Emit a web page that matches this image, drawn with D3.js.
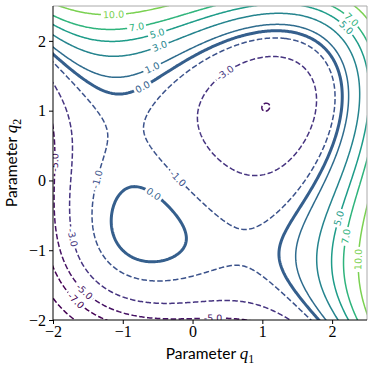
<!DOCTYPE html>
<html>
<head>
<meta charset="utf-8">
<script src="https://cdn.jsdelivr.net/npm/d3@7"></script>
<style>
  body { margin: 0; background: #fff; }
  svg { display: block; }
</style>
</head>
<body>
<script>
// contour levels and axis ticks
const levels = [-10, -7, -5, -3, -1, 0, 1, 3, 5, 7, 10];
const xTicks = [-2, -1, 0, 1, 2];
const yTicks = [-2, -1, 0, 1, 2];
const xDomain = [-2, 2.5];
const yDomain = [-2, 2.5];

// surface: min about -5 near (1,1), small max near (-0.7,-0.7)
const cubicCoef = [1.019, 0.032];   // x^3+y^3, x^2y+xy^2
const quadCoef = [-0.056, -0.958];  // x^2+y^2, xy
const linCoef = -2.295;             // x+y
const constCoef = -1.413;
const flattenCoef = 0.0065;         // damps the far upper-right corner

// inline labels: level and rough spot (q1, q2) where it sits
const labelLevel = [10, 7, 5, 3, 1, 0, -3, 7, 5, -1, -1, 0, -3, -5, -7, -5, 5, 7, 10, -5];
const labelQ1 = [-1.14, -0.80, -0.51, -0.47, -0.57, -0.70, 0.46, 2.28, 2.21, -1.37, -0.22, -0.58, -1.73, -1.57, -1.71, 0.29, 2.08, 2.21, 2.36, -1.97];
const labelQ2 = [2.34, 2.18, 2.11, 1.90, 1.58, 1.32, 1.55, 2.30, 2.20, 0.01, 0.01, -0.24, -0.83, -1.61, -1.76, -1.97, -0.54, -0.81, -1.14, 0.25];

function field(a, b) {
  const u = Math.max(0, (a + b) / Math.SQRT2);
  return cubicCoef[0] * (a * a * a + b * b * b) + cubicCoef[1] * (a * a * b + a * b * b)
    + quadCoef[0] * (a * a + b * b) + quadCoef[1] * a * b
    + linCoef * (a + b) + constCoef - flattenCoef * u * u * u * u;
}

const width = 374, height = 367;
const x = d3.scaleLinear().domain(xDomain).range([53, 367]);
const y = d3.scaleLinear().domain(yDomain).range([320, 6]);

// colour: viridis, stretched so 0 sits around 0.3 and 10 around 0.8
const color = v => d3.interpolateViridis(Math.max(0, Math.min(1, (v + 6) / 20)));

const svg = d3.select("body").append("svg")
  .attr("width", width)
  .attr("height", height);

const defs = svg.append("defs");
defs.append("clipPath").attr("id", "plotclip")
  .append("rect")
  .attr("x", x(xDomain[0])).attr("y", y(yDomain[1]))
  .attr("width", x(xDomain[1]) - x(xDomain[0]))
  .attr("height", y(yDomain[0]) - y(yDomain[1]));

// grid a bit bigger than the view so the ring borders fall outside the clip
const n = 300, g0 = -2.35, g1 = 2.85, step = (g1 - g0) / (n - 1);
const values = new Float64Array(n * n);
for (let j = 0; j < n; j++) {
  for (let i = 0; i < n; i++) {
    values[j * n + i] = field(g0 + i * step, g0 + j * step);
  }
}
const contours = d3.contours().size([n, n]).thresholds(levels)(values);

const toPx = (cx, cy) => [x(g0 + (cx - 0.5) * step), y(g0 + (cy - 0.5) * step)];
const path = d3.geoPath(d3.geoTransform({
  point: function(px, py) {
    const p = toPx(px, py);
    this.stream.point(p[0], p[1]);
  }
}));

// ring points in pixels, per level, for placing labels
const ringsByLevel = {};
contours.forEach(c => {
  ringsByLevel[c.value] = [];
  c.coordinates.forEach(poly => poly.forEach(ring => {
    ringsByLevel[c.value].push(ring.map(p => toPx(p[0], p[1])));
  }));
});

const fmt = v => v.toFixed(1);
const labels = labelLevel.map((lv, k) => {
  const ax = x(labelQ1[k]), ay = y(labelQ2[k]);
  let best = null, bestD = Infinity;
  (ringsByLevel[lv] || []).forEach(r => {
    r.forEach((p, i) => {
      const d = (p[0] - ax) ** 2 + (p[1] - ay) ** 2;
      if (d < bestD) { bestD = d; best = {r, i}; }
    });
  });
  const r = best.r, m = r.length;
  const p = r[best.i];
  const p0 = r[(best.i - 3 + m) % m], p1 = r[(best.i + 3) % m];
  let ang = Math.atan2(p1[1] - p0[1], p1[0] - p0[0]) * 180 / Math.PI;
  if (ang > 90) ang -= 180;
  if (ang < -90) ang += 180;
  return {level: lv, px: p[0], py: p[1], ang: ang, text: fmt(lv)};
});

// text first, so its length can be measured for the line gaps
const labelG = svg.append("g").attr("clip-path", "url(#plotclip)");
labelG.selectAll("text")
  .data(labels)
  .join("text")
  .attr("transform", d => `translate(${d.px},${d.py}) rotate(${d.ang})`)
  .attr("text-anchor", "middle")
  .attr("dy", "0.35em")
  .attr("font-family", "DejaVu Sans, sans-serif")
  .attr("font-size", 9.5)
  .attr("fill", d => color(d.level))
  .text(d => d.text)
  .each(function(d) { d.w = this.getComputedTextLength(); });

levels.forEach((lv, i) => {
  const mask = defs.append("mask").attr("id", "mask" + i)
    .attr("maskUnits", "userSpaceOnUse")
    .attr("x", 0).attr("y", 0).attr("width", width).attr("height", height);
  mask.append("rect").attr("width", width).attr("height", height).attr("fill", "#fff");
  labels.filter(d => d.level === lv).forEach(d => {
    mask.append("rect")
      .attr("x", -d.w / 2 - 2).attr("y", -6)
      .attr("width", d.w + 4).attr("height", 12)
      .attr("transform", `translate(${d.px},${d.py}) rotate(${d.ang})`)
      .attr("fill", "#000");
  });
});

const lineG = svg.insert("g", "g").attr("clip-path", "url(#plotclip)");
lineG.selectAll("g")
  .data(contours)
  .join("g")
  .attr("mask", (d, i) => `url(#mask${i})`)
  .append("path")
  .attr("d", path)
  .attr("fill", "none")
  .attr("stroke", d => color(d.value))
  .attr("stroke-width", d => d.value === 0 ? 3 : 1.5)
  .attr("stroke-dasharray", d => d.value < 0 ? "5.5,2.4" : null);

// axes
const tickFont = "Liberation Serif, DejaVu Serif, serif";
const xAxis = svg.append("g")
  .attr("transform", `translate(0,${y(yDomain[0])})`)
  .call(d3.axisBottom(x).tickValues(xTicks).tickSize(4).tickPadding(2)
    .tickFormat(d => d < 0 ? "\u2212" + Math.abs(d) : d));
const yAxis = svg.append("g")
  .attr("transform", `translate(${x(xDomain[0])},0)`)
  .call(d3.axisLeft(y).tickValues(yTicks).tickSize(4).tickPadding(3)
    .tickFormat(d => d < 0 ? "\u2212" + Math.abs(d) : d));
[xAxis, yAxis].forEach(a => {
  a.select(".domain").remove();
  a.selectAll("text").attr("font-family", tickFont).attr("font-size", 16).attr("fill", "#000");
  a.selectAll("line").attr("stroke", "#000");
});

// frame: dark on left and bottom, grey on top and right
svg.append("line").attr("x1", x(xDomain[0])).attr("x2", x(xDomain[1]))
  .attr("y1", y(yDomain[1])).attr("y2", y(yDomain[1])).attr("stroke", "#aaa");
svg.append("line").attr("x1", x(xDomain[1])).attr("x2", x(xDomain[1]))
  .attr("y1", y(yDomain[0])).attr("y2", y(yDomain[1])).attr("stroke", "#aaa");
svg.append("line").attr("x1", x(xDomain[0])).attr("x2", x(xDomain[1]))
  .attr("y1", y(yDomain[0])).attr("y2", y(yDomain[0])).attr("stroke", "#000");
svg.append("line").attr("x1", x(xDomain[0])).attr("x2", x(xDomain[0]))
  .attr("y1", y(yDomain[0])).attr("y2", y(yDomain[1])).attr("stroke", "#000");

// axis titles
const titleFont = "Lato, Liberation Sans, sans-serif";
const xt = svg.append("text")
  .attr("x", (x(xDomain[0]) + x(xDomain[1])) / 2)
  .attr("y", 359)
  .attr("text-anchor", "middle")
  .attr("font-family", titleFont)
  .attr("font-size", 15.5);
xt.append("tspan").text("Parameter ");
xt.append("tspan").attr("font-family", tickFont).attr("font-style", "italic").attr("font-size", 17).text("q");
xt.append("tspan").attr("font-family", tickFont).attr("font-size", 12).attr("dy", 4).text("1");

const yt = svg.append("text")
  .attr("transform", `translate(17,${(y(yDomain[0]) + y(yDomain[1])) / 2}) rotate(-90)`)
  .attr("text-anchor", "middle")
  .attr("font-family", titleFont)
  .attr("font-size", 15.5);
yt.append("tspan").text("Parameter ");
yt.append("tspan").attr("font-family", tickFont).attr("font-style", "italic").attr("font-size", 17).text("q");
yt.append("tspan").attr("font-family", tickFont).attr("font-size", 12).attr("dy", 4).text("2");
</script>
</body>
</html>
